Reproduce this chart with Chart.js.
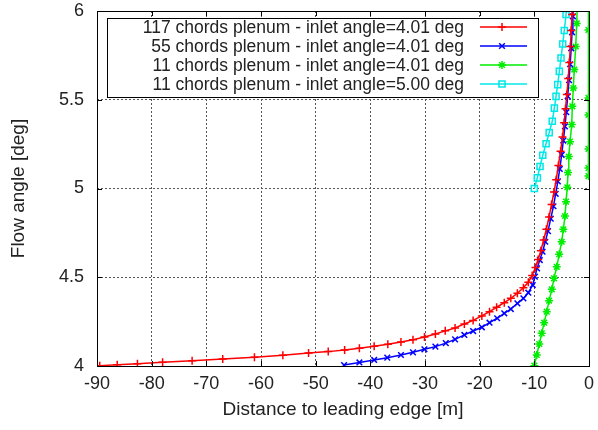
<!DOCTYPE html>
<html>
<head>
<meta charset="utf-8">
<script src="https://cdn.jsdelivr.net/npm/chart.js@4"></script>
<style>
  html, body { margin: 0; padding: 0; background: #fff; }
  #wrap { width: 598px; height: 430px; }
</style>
</head>
<body>
<div id="wrap"><canvas id="chart-1" width="598" height="430"></canvas></div>
<script>
const seriesLabels = [
    "117 chords plenum - inlet angle=4.01 deg",
    "55 chords plenum - inlet angle=4.01 deg",
    "11 chords plenum - inlet angle=4.01 deg",
    "11 chords plenum - inlet angle=5.00 deg",
];
const xTicks = [-90, -80, -70, -60, -50, -40, -30, -20, -10, 0];
const yTicks = [4, 4.5, 5, 5.5, 6];

// [distance, angle]
const chords117 = [
    [-89.5, 4.002], [-86.3, 4.007], [-82.6, 4.013], [-78.0, 4.021], [-72.6, 4.030],
    [-67.0, 4.039], [-61.2, 4.049], [-56.0, 4.061], [-51.3, 4.073], [-47.7, 4.081],
    [-44.7, 4.090], [-42.0, 4.100], [-39.3, 4.111], [-36.8, 4.122], [-34.4, 4.135],
    [-32.2, 4.148], [-30.1, 4.163], [-28.1, 4.180], [-26.3, 4.198], [-24.5, 4.214],
    [-22.8, 4.237], [-21.2, 4.257], [-19.6, 4.282], [-18.2, 4.306], [-16.9, 4.331],
    [-15.5, 4.357], [-14.3, 4.381], [-13.1, 4.410], [-12.0, 4.441], [-11.1, 4.472],
    [-10.4, 4.510], [-9.8, 4.555], [-9.3, 4.600], [-8.8, 4.650], [-8.3, 4.710],
    [-7.8, 4.770], [-7.3, 4.840], [-6.85, 4.910], [-6.4, 4.980], [-6.0, 5.050],
    [-5.6, 5.130], [-5.2, 5.210], [-4.85, 5.290], [-4.55, 5.370], [-4.3, 5.450],
    [-4.05, 5.530], [-3.8, 5.620], [-3.6, 5.710], [-3.4, 5.800], [-3.25, 5.890],
    [-3.1, 5.980], [-3.0, 6.060],
];
const chords55 = [
    [-44.8, 4.005], [-42.0, 4.020], [-39.3, 4.034], [-36.9, 4.047], [-34.4, 4.062],
    [-32.2, 4.077], [-30.1, 4.094], [-28.1, 4.109], [-26.2, 4.129], [-24.5, 4.150],
    [-22.8, 4.175], [-21.2, 4.197], [-19.6, 4.218], [-18.2, 4.244], [-16.8, 4.269],
    [-15.5, 4.297], [-14.3, 4.321], [-13.1, 4.353], [-12.0, 4.381], [-11.1, 4.413],
    [-10.3, 4.456], [-9.9, 4.503], [-9.5, 4.550], [-9.0, 4.597], [-8.5, 4.644],
    [-8.0, 4.700], [-7.5, 4.760], [-7.0, 4.830], [-6.5, 4.900], [-6.1, 4.970],
    [-5.7, 5.040], [-5.35, 5.110], [-5.0, 5.190], [-4.7, 5.270], [-4.4, 5.350],
    [-4.15, 5.430], [-3.9, 5.520], [-3.65, 5.610], [-3.45, 5.700], [-3.25, 5.790],
    [-3.1, 5.880], [-2.95, 5.970], [-2.85, 6.050],
];
const chords11 = [
    [-10.0, 4.002], [-9.56, 4.062], [-9.1, 4.124], [-8.65, 4.184], [-8.2, 4.244],
    [-7.73, 4.306], [-7.3, 4.368], [-6.8, 4.432], [-6.4, 4.494], [-5.9, 4.559],
    [-5.45, 4.630], [-5.0, 4.700], [-4.7, 4.770], [-4.39, 4.845], [-4.2, 4.926],
    [-3.97, 5.007], [-3.84, 5.090], [-3.7, 5.180], [-3.47, 5.264], [-3.16, 5.360],
    [-3.05, 5.463], [-2.87, 5.566], [-2.69, 5.670], [-2.43, 5.800], [-2.25, 5.930],
    [-2.1, 6.060], null,
    [-0.1, 6.100], [-0.1, 5.893], [-0.1, 5.510], [-0.1, 5.414], [-0.1, 5.223],
    [-0.1, 5.115], [-0.1, 5.070],
];
const chords11b = [
    [-10.0, 5.000], [-9.45, 5.060], [-8.96, 5.124], [-8.46, 5.187], [-7.85, 5.252],
    [-7.28, 5.315], [-6.72, 5.379], [-6.34, 5.453], [-6.03, 5.519], [-5.72, 5.585],
    [-5.43, 5.660], [-5.12, 5.735], [-4.81, 5.814], [-4.52, 5.890], [-4.2, 5.980],
    [-4.0, 6.050],
];

const colors = ["#ff0000", "#0000ff", "#00ee00", "#00e8e8"];
const styles = ["cross", "crossRot", "star", "rect"];
const radii = [4, 4, 4, 4.3];

function toXY(arr) {
    return arr.map(p => p ? { x: p[0], y: p[1] } : { x: null, y: null });
}

const FONT = "'Liberation Sans', Arial, sans-serif";

const frame = {
    id: "frame",
    afterDatasetsDraw(chart) {
        const { ctx, chartArea: a, scales } = chart;
        ctx.save();
        ctx.strokeStyle = "#000";
        ctx.lineWidth = 1;
        ctx.beginPath();
        xTicks.forEach(t => {
            const x = Math.round(scales.x.getPixelForValue(t)) + 0.5;
            ctx.moveTo(x, a.bottom); ctx.lineTo(x, a.bottom - 5);
            ctx.moveTo(x, a.top); ctx.lineTo(x, a.top + 5);
        });
        yTicks.forEach(t => {
            const y = Math.round(scales.y.getPixelForValue(t)) + 0.5;
            ctx.moveTo(a.left, y); ctx.lineTo(a.left + 5, y);
            ctx.moveTo(a.right, y); ctx.lineTo(a.right - 5, y);
        });
        ctx.stroke();
        ctx.strokeRect(Math.round(a.left) + 0.5, Math.round(a.top) + 0.5,
            Math.round(a.right - a.left), Math.round(a.bottom - a.top));

        // legend box, gnuplot style
        const bx = 107.5, by = 18.5, bw = 431, bh = 79;
        ctx.fillStyle = "#fff";
        ctx.fillRect(bx, by, bw, bh);
        ctx.strokeRect(bx, by, bw, bh);
        ctx.font = "17.5px " + FONT;
        ctx.textAlign = "right";
        ctx.textBaseline = "middle";
        seriesLabels.forEach((lab, i) => {
            const y = 27 + i * 19;
            ctx.fillStyle = "#222";
            ctx.fillText(lab, 464, y + 1);
            ctx.strokeStyle = colors[i];
            ctx.lineWidth = 1.5;
            ctx.beginPath();
            ctx.moveTo(480, y); ctx.lineTo(527, y);
            ctx.stroke();
            ctx.fillStyle = "rgba(0,0,0,0)";
            Chart.helpers.drawPoint(ctx, {
                pointStyle: styles[i], radius: radii[i], rotation: 0, borderWidth: 1.5,
            }, 502, y);
        });
        ctx.restore();
    },
};

const ctx1 = document.getElementById("chart-1").getContext("2d");
const myChart = new Chart(ctx1, {
    type: "scatter",
    data: {
        datasets: [chords117, chords55, chords11, chords11b].map((d, i) => ({
            label: seriesLabels[i],
            data: toXY(d),
            showLine: true,
            spanGaps: false,
            borderColor: colors[i],
            backgroundColor: "rgba(0,0,0,0)",
            borderWidth: 1.5,
            pointStyle: styles[i],
            pointRadius: radii[i],
            pointBorderWidth: 1.5,
            pointBorderColor: colors[i],
            pointBackgroundColor: "rgba(0,0,0,0)",
        })),
    },
    options: {
        responsive: false,
        animation: false,
        layout: { padding: { left: 0, right: 9, top: 11, bottom: 0 } },
        plugins: {
            legend: { display: false },
            tooltip: { enabled: false },
        },
        scales: {
            x: {
                type: "linear",
                min: -90,
                max: 0,
                afterBuildTicks: s => { s.ticks = xTicks.map(v => ({ value: v })); },
                afterFit: s => { s.height = 64; s.paddingRight = 0; s.paddingLeft = 0; },
                ticks: {
                    color: "#222", font: { family: FONT, size: 18 }, padding: 7, maxRotation: 0,
                    callback: v => String(v),
                },
                grid: { color: "#555", lineWidth: 1, drawTicks: false, tickLength: 0 },
                border: { display: false, dash: [2, 2] },
                title: {
                    display: true,
                    text: "Distance to leading edge [m]",
                    color: "#222",
                    font: { family: FONT, size: 19 },
                    padding: { top: 0, bottom: 9 },
                },
            },
            y: {
                type: "linear",
                min: 4,
                max: 6,
                afterBuildTicks: s => { s.ticks = yTicks.map(v => ({ value: v })); },
                afterFit: s => { s.width = 97; s.paddingTop = 0; s.paddingBottom = 0; },
                ticks: {
                    color: "#222", font: { family: FONT, size: 18 }, padding: 13,
                    callback: v => String(v),
                },
                grid: { color: "#555", lineWidth: 1, drawTicks: false, tickLength: 0 },
                border: { display: false, dash: [2, 2] },
                title: {
                    display: true,
                    text: "Flow angle [deg]",
                    color: "#222",
                    font: { family: FONT, size: 19 },
                    padding: { top: 7, bottom: 0 },
                },
            },
        },
    },
    plugins: [frame],
});
</script>
</body>
</html>
